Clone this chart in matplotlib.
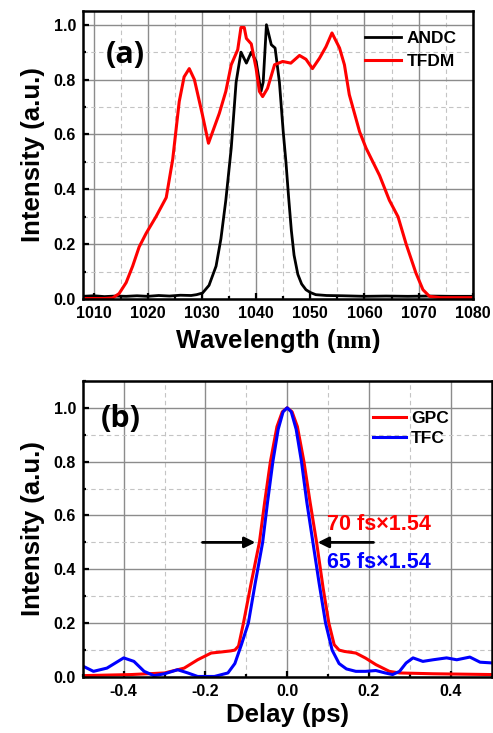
import numpy as np
import matplotlib
matplotlib.use('Agg')
import matplotlib.pyplot as plt
from matplotlib.ticker import MultipleLocator

plt.rcParams['font.family'] = ['Liberation Sans', 'DejaVu Sans']
plt.rcParams['font.weight'] = 'bold'
plt.rcParams['mathtext.fontset'] = 'custom'
plt.rcParams['mathtext.bf'] = 'Liberation Serif:bold'

# (a) spectra, values
andc_wl = [1008, 1010, 1012, 1014, 1016, 1018, 1020, 1022, 1024, 1026, 1028, 1029, 1030.1,
           1031.3, 1032.6, 1033.5, 1034.4, 1035.4, 1036.3, 1037.2, 1038.2, 1039.1,
           1040.0, 1040.9, 1041.3, 1041.9, 1042.8, 1043.5, 1044.3, 1045.0, 1045.5,
           1046.0, 1046.5, 1047.0, 1047.7, 1048.4, 1049.2, 1050.0,
           1051.0, 1053, 1056, 1060, 1064, 1068, 1072, 1076, 1080]
andc_int = [0.010, 0.012, 0.009, 0.011, 0.010, 0.012, 0.010, 0.013, 0.011, 0.014, 0.013, 0.016, 0.022,
            0.05, 0.12, 0.22, 0.36, 0.55, 0.79, 0.90, 0.86, 0.90,
            0.866, 0.757, 0.79, 1.00, 0.927, 0.915, 0.79, 0.61, 0.50,
            0.37, 0.25, 0.16, 0.09, 0.055, 0.034, 0.024,
            0.016, 0.013, 0.012, 0.010, 0.011, 0.010, 0.011, 0.010, 0.010]

tfdm_wl = [1008, 1012, 1013.5, 1014.7, 1016.0, 1017.2, 1018.4, 1019.7, 1021.5, 1023.4, 1024.6,
           1025.8, 1026.7, 1027.65, 1028.6, 1030.1, 1031.2, 1033.2, 1034.4,
           1035.4, 1036.6, 1037.2, 1037.8, 1038.2, 1039.1, 1040.0, 1040.6, 1041.2, 1042.1,
           1043.4, 1044.9, 1046.4, 1048.0, 1049.2, 1050.4, 1051.7, 1052.9, 1054.0,
           1055.4, 1056.3, 1057.2, 1059.1, 1060.3, 1062.8, 1064.6, 1066.2, 1067.7,
           1069.5, 1070.8, 1072.0, 1074, 1080]
tfdm_int = [0.002, 0.002, 0.004, 0.02, 0.06, 0.12, 0.19, 0.24, 0.30, 0.37, 0.51,
            0.72, 0.81, 0.84, 0.80, 0.67, 0.568, 0.677, 0.757,
            0.854, 0.909, 0.99, 0.99, 0.95, 0.93, 0.84, 0.757, 0.738, 0.768,
            0.854, 0.866, 0.86, 0.888, 0.874, 0.84, 0.878, 0.92, 0.97,
            0.915, 0.854, 0.745, 0.61, 0.55, 0.45, 0.36, 0.30, 0.20,
            0.095, 0.034, 0.01, 0.005, 0.005]

# (b) autocorrelation traces
gpc_t = [-0.502, -0.383, -0.30, -0.252, -0.219, -0.186, -0.161, -0.138, -0.128, -0.119,
         -0.107, -0.088, -0.068, -0.055, -0.041, -0.025, -0.012, 0.0, 0.012, 0.025,
         0.041, 0.056, 0.072, 0.088, 0.102, 0.115, 0.127, 0.14, 0.168,
         0.192, 0.217, 0.25, 0.275, 0.357, 0.504]
gpc_int = [0.005, 0.009, 0.015, 0.033, 0.064, 0.089, 0.093, 0.097, 0.10, 0.115,
           0.2, 0.35, 0.5, 0.65, 0.8, 0.93, 0.985, 1.0, 0.985, 0.93,
           0.8, 0.65, 0.5, 0.33, 0.2, 0.12, 0.10, 0.095, 0.089,
           0.07, 0.046, 0.021, 0.015, 0.012, 0.009]

tfc_t = [-0.502, -0.474, -0.441, -0.40, -0.375, -0.35, -0.326, -0.30, -0.268, -0.243,
         -0.219, -0.178, -0.145, -0.128, -0.112, -0.095, -0.078, -0.060, -0.048, -0.035,
         -0.022, -0.01, 0.0, 0.01, 0.022, 0.035, 0.048, 0.063, 0.078, 0.094, 0.11,
         0.127, 0.145, 0.168, 0.192, 0.217, 0.24, 0.258, 0.275,
         0.291, 0.308, 0.332, 0.357, 0.39, 0.415, 0.447, 0.472, 0.504]
tfc_int = [0.042, 0.021, 0.033, 0.071, 0.058, 0.021, 0.005, 0.012, 0.027, 0.015,
           0.002, 0.002, 0.015, 0.05, 0.12, 0.2, 0.35, 0.5, 0.65, 0.8,
           0.92, 0.985, 1.0, 0.985, 0.92, 0.8, 0.65, 0.5, 0.35, 0.2, 0.1,
           0.05, 0.03, 0.021, 0.021, 0.024, 0.015, 0.009, 0.021,
           0.052, 0.071, 0.058, 0.064, 0.071, 0.064, 0.074, 0.055, 0.052]

wl_ticks = [1010, 1020, 1030, 1040, 1050, 1060, 1070, 1080]
delay_ticks = [-0.4, -0.2, 0.0, 0.2, 0.4]
int_ticks = [0.0, 0.2, 0.4, 0.6, 0.8, 1.0]


def style_axes(ax, xminor):
    ax.xaxis.set_minor_locator(MultipleLocator(xminor))
    ax.yaxis.set_minor_locator(MultipleLocator(0.1))
    ax.grid(which='major', color='#8c8c8c', lw=1.0, ls='-')
    ax.grid(which='minor', color='#c4c4c4', lw=0.8, ls=(0, (4, 3)))
    ax.set_axisbelow(True)
    ax.tick_params(which='major', direction='in', length=4, width=1.6,
                   labelsize=11.5, pad=5)
    ax.tick_params(which='minor', direction='in', length=2.5, width=1.6)
    for s in ax.spines.values():
        s.set_linewidth(1.8)
    ax.set_ylabel('Intensity (a.u.)', fontsize=18.5, fontweight='bold', labelpad=6)
    ax.set_yticks(int_ticks)
    ax.set_yticklabels(['%.1f' % v for v in int_ticks])


fig = plt.figure(figsize=(4.93, 7.33), dpi=100)

ax1 = fig.add_axes([0.168, 0.592, 0.791, 0.393])
ax1.plot(andc_wl, andc_int, color='black', lw=2.0, label='ANDC')
ax1.plot(tfdm_wl, tfdm_int, color='#ff0000', lw=2.2, label='TFDM')
ax1.set_xlim(1008, 1080)
ax1.set_ylim(0, 1.05)
ax1.set_xticks(wl_ticks)
style_axes(ax1, 5)
ax1.set_xlabel(r'Wavelength ($\mathbf{nm}$)', fontsize=18.5, fontweight='bold', labelpad=4)
ax1.text(1012.2, 0.89, '(a)', fontsize=22, fontweight='bold', family='Open Sans',
         va='center', ha='left')
ax1.legend(loc='upper left', bbox_to_anchor=(0.723, 0.93), frameon=False,
           fontsize=12.5, handlelength=2.1, handletextpad=0.3, labelspacing=0.45,
           borderpad=0, borderaxespad=0)

ax2 = fig.add_axes([0.168, 0.0764, 0.829, 0.404])
ax2.plot(gpc_t, gpc_int, color='#ff0000', lw=2.2, label='GPC')
ax2.plot(tfc_t, tfc_int, color='#0000ff', lw=2.2, label='TFC')
ax2.set_xlim(-0.5, 0.5)
ax2.set_ylim(0, 1.1)
ax2.set_xticks(delay_ticks)
ax2.set_xticklabels(['%.1f' % v for v in delay_ticks])
style_axes(ax2, 0.1)
ax2.set_xlabel('Delay (ps)', fontsize=18.5, fontweight='bold', labelpad=3)
ax2.text(-0.455, 0.96, '(b)', fontsize=22, fontweight='bold', family='Open Sans',
         va='center', ha='left')
ax2.legend(loc='upper left', bbox_to_anchor=(0.71, 0.90), frameon=False,
           fontsize=12.5, handlelength=1.9, handletextpad=0.3, labelspacing=0.3,
           borderpad=0, borderaxespad=0)
arrow = dict(arrowstyle='-|>', color='black', lw=2.0, mutation_scale=16)
ax2.annotate('', xy=(-0.071, 0.5), xytext=(-0.214, 0.5), arrowprops=arrow)
ax2.annotate('', xy=(0.068, 0.5), xytext=(0.218, 0.5), arrowprops=arrow)
ax2.text(0.098, 0.565, '70 fs\u00d71.54', color='#ff0000', fontsize=15.5,
         fontweight='bold', va='center', ha='left')
ax2.text(0.098, 0.425, '65 fs\u00d71.54', color='#0000ff', fontsize=15.5,
         fontweight='bold', va='center', ha='left')

fig.savefig('out.png', dpi=100)
